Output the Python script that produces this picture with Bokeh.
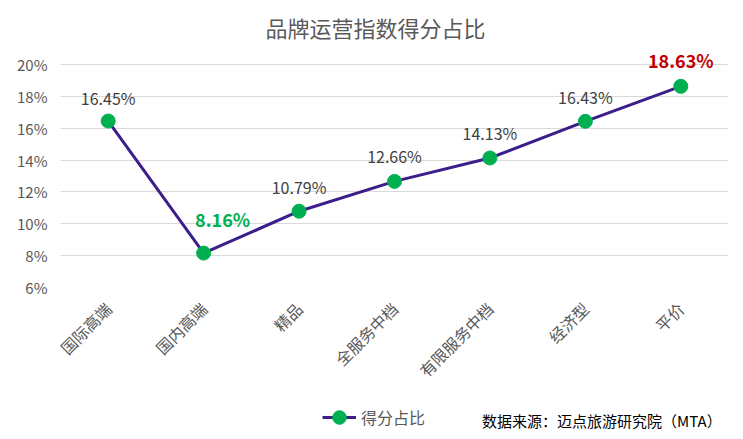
import math
from bokeh.plotting import figure
from bokeh.layouts import column
from bokeh.models import (ColumnDataSource, Range1d, FixedTicker, CustomJSTickFormatter,
                          LabelSet, Label, Legend, LegendItem)
from bokeh.core.properties import value
from bokeh.embed import file_html
from bokeh.resources import INLINE

categories = ["国际高端", "国内高端", "精品", "全服务中档", "有限服务中档", "经济型", "平价"]
values = [16.45, 8.16, 10.79, 12.66, 14.13, 16.43, 18.63]
y_ticks = [6, 8, 10, 12, 14, 16, 18, 20]
series_name = "得分占比"
title_text = "品牌运营指数得分占比"
source_text = "数据来源：迈点旅游研究院（MTA）"

# label styling (not data)
label_colors = ["#404040", "#00B050", "#404040", "#404040", "#404040", "#404040", "#C00000"]
label_weights = ["normal", "bold", "normal", "normal", "normal", "normal", "bold"]
label_sizes = ["16px", "18px", "16px", "16px", "16px", "16px", "18px"]
label_yoff = [23, 34, 24, 25, 25, 24, 26]
label_xoff = [0, 19, 0, 0, 0, 0, 0]

FONT = "Noto Sans CJK SC"
LINE_COLOR = "#3C1E8A"
DOT_COLOR = "#00B050"
BORDER_L, BORDER_R, WIDTH = 60, 15, 743

# plot frame: page y 0 (top) .. 287 (6%), with 20% at y 64
FRAME_H = 287
Y_LO, Y_HI = y_ticks[0], y_ticks[-1]
y_top = Y_LO + (Y_HI - Y_LO) * FRAME_H / (FRAME_H - 64)

p = figure(x_range=categories, y_range=Range1d(Y_LO, y_top), width=WIDTH, height=395,
           output_backend="svg", toolbar_location=None, title=None,
           min_border_left=BORDER_L, min_border_right=BORDER_R,
           min_border_top=0, min_border_bottom=108)
p.outline_line_color = None

p.xgrid.grid_line_color = None
p.ygrid.grid_line_color = "#D9D9D9"
p.ygrid.grid_line_width = 1

p.yaxis.ticker = FixedTicker(ticks=y_ticks)
p.yaxis.formatter = CustomJSTickFormatter(code="return tick + '%';")
for ax in (p.xaxis, p.yaxis):
    ax.axis_line_color = None
    ax.major_tick_line_color = None
    ax.minor_tick_line_color = None
    ax.major_label_text_color = "#595959"
    ax.major_label_text_font = FONT
p.yaxis.major_label_text_font_size = "15px"
p.xaxis.major_label_text_font_size = "16px"
p.yaxis.major_label_standoff = 7
p.xaxis.major_label_orientation = math.pi / 4
p.xaxis.major_label_standoff = 12

src = ColumnDataSource(dict(x=categories, y=values,
                            txt=["%.2f%%" % v for v in values],
                            color=label_colors, weight=label_weights,
                            size=label_sizes, yoff=label_yoff, xoff=label_xoff))

ln = p.line("x", "y", source=src, line_color=LINE_COLOR, line_width=3)
sc = p.scatter("x", "y", source=src, size=14, fill_color=DOT_COLOR, line_color=DOT_COLOR)

labels = LabelSet(x="x", y="y", text="txt", source=src, y_offset="yoff", x_offset="xoff",
                  text_align="center", text_baseline="middle",
                  text_color="color", text_font_style="weight", text_font_size="size",
                  text_font=value(FONT))
p.add_layout(labels)

title = Label(x=315, y=FRAME_H - 26, x_units="screen", y_units="screen", text=title_text,
              text_align="center", text_baseline="middle", text_font=FONT,
              text_font_size="22px", text_color="#595959")
p.add_layout(title)

# bottom strip: legend and source note (data units = page pixels)
p2 = figure(width=WIDTH, height=44, x_range=Range1d(BORDER_L, WIDTH),
            y_range=Range1d(0, 44),
            output_backend="svg", toolbar_location=None, title=None,
            x_axis_location=None, y_axis_location=None,
            min_border_left=BORDER_L, min_border_right=0,
            min_border_top=0, min_border_bottom=0)
p2.outline_line_color = None
p2.grid.visible = False

# legend proxies (kept outside the visible range of the strip)
proxy = ColumnDataSource(dict(x=[-100], y=[-100]))
ln2 = p2.line("x", "y", source=proxy, line_color=LINE_COLOR, line_width=3)
sc2 = p2.scatter("x", "y", source=proxy, size=14, fill_color=DOT_COLOR, line_color=DOT_COLOR)
legend = Legend(items=[LegendItem(label=series_name, renderers=[ln2, sc2])],
                location=(322 - BORDER_L, 5), orientation="horizontal",
                background_fill_alpha=0, border_line_color=None,
                padding=0, margin=0, glyph_width=34, glyph_height=34, label_standoff=5,
                label_text_font=FONT, label_text_font_size="16px",
                label_text_color="#595959")
p2.add_layout(legend, "center")

source_lbl = Label(x=736, y=19, text=source_text, text_align="right",
                   text_baseline="middle", text_font=FONT, text_font_size="15px",
                   text_color="#000000")
p2.add_layout(source_lbl)

layout = column(p, p2, spacing=0)
open("out.html", "w").write(file_html(layout, INLINE))
